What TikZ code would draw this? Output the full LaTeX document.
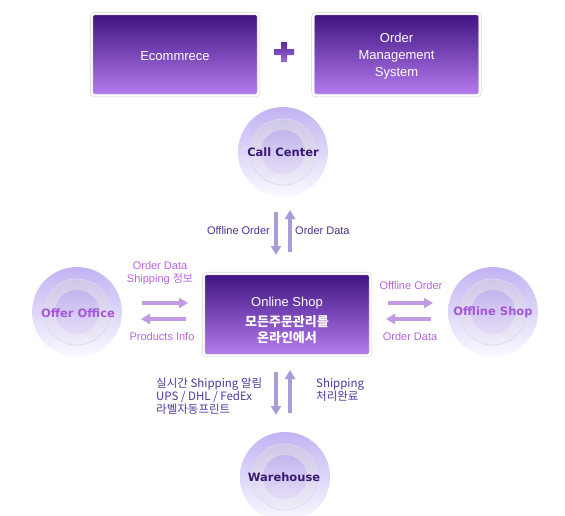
\documentclass[tikz,border=0pt]{standalone}
\usepackage{fontspec}
\setmainfont{Liberation Sans}
\newfontfamily\krfont{Noto Sans CJK KR}
\newfontfamily\djvfont{DejaVu Sans}
\usetikzlibrary{arrows.meta}
\definecolor{boxtop}{HTML}{3E1380}
\definecolor{boxbot}{HTML}{B77CF0}
\definecolor{framegray}{HTML}{D4D4D4}
\definecolor{plustop}{HTML}{5B2C9E}
\definecolor{plusbot}{HTML}{9A6AD8}
\definecolor{ctop}{HTML}{C2B3F2}
\definecolor{cmid}{HTML}{DDD4F8}
\definecolor{cbot}{HTML}{FBFAFF}
\definecolor{mtop}{HTML}{D0C7E8}
\definecolor{mbot}{HTML}{F0ECF9}
\definecolor{medge}{HTML}{C9BFE6}
\definecolor{itop}{HTML}{C4B5EE}
\definecolor{ibot}{HTML}{E4DDF6}
\definecolor{darklbl}{HTML}{3A1A72}
\definecolor{orchid}{HTML}{A457D6}
\definecolor{toplbl}{HTML}{4E3290}
\definecolor{sidelbl}{HTML}{B865DC}
\definecolor{botlbl}{HTML}{5038A0}
\definecolor{varrow}{HTML}{A99CD9}
\definecolor{harrow}{HTML}{C49AE2}
\newcommand\krbold{\krfont\bfseries\fontsize{13}{15}\selectfont}
\tikzset{
  pbox/.style={rectangle, rounded corners=3pt, top color=boxtop, bottom color=boxbot,
    draw=framegray, double=white, double distance=2pt, line width=0.6pt,
    minimum width=167pt, minimum height=82pt, inner sep=0pt},
  btext/.style={text=white, align=center, font=\fontsize{13}{17}\selectfont, inner sep=0pt},
  disc/.pic={
    \shade[top color=ctop, middle color=cmid, bottom color=cbot] (0,0) circle (45pt);
    \shade[top color=mtop, bottom color=mbot] (0,0) circle (33pt);
    \draw[medge!60, line width=0.6pt] (0,0) circle (33pt);
    \shade[top color=itop, bottom color=ibot] (0,0) circle (22pt);
  },
  clbl/.style={font=\djvfont\bfseries\fontsize{11.5}{13}\selectfont, inner sep=0pt},
  lbl/.style={font=\fontsize{11}{13}\selectfont, inner sep=0pt},
  krlbl/.style={font=\krfont\fontsize{11.5}{13}\selectfont, inner sep=0pt, align=left},
  varr/.style={draw=varrow, line width=4pt, -{Triangle[width=10pt,length=9pt]}},
  harr/.style={draw=harrow, line width=4pt, -{Triangle[width=10pt,length=9pt]}},
}
\begin{document}
\begin{tikzpicture}[x=1pt,y=-1pt]
\useasboundingbox (0,0) rectangle (565,515);
\fill[white] (0,0) rectangle (565,515);

% top boxes
\node[pbox] (eco) at (175,54.5) {};
\node[btext] (ecot) at (175,56) {Ecommrece};
\node[pbox] (oms) at (396.5,54.5) {};
\node[btext] (omst) at (396.5,56.5) {Order\\Management\\System};
\shade[top color=plustop, bottom color=plusbot]
  (281,42) -- (287,42) -- (287,49) -- (294,49) -- (294,55) -- (287,55) -- (287,62)
  -- (281,62) -- (281,55) -- (274,55) -- (274,49) -- (281,49) -- cycle;

% central box
\node[pbox] (shop) at (287,314.5) {};
\node[btext] (shopt) at (287,320)
  {Online Shop\\[3pt]\krbold 모든주문관리를\\[-1pt]\krbold 온라인에서};

% circles
\pic at (283,152) {disc};
\node[clbl, text=darklbl] (cc) at (283,152) {Call Center};
\pic at (77,312) {disc};
\node[clbl, text=orchid] (oo) at (78,313) {Offer Office};
\pic at (493,312) {disc};
\node[clbl, text=orchid] (os) at (493,312) {Offline Shop};
\pic at (285,477) {disc};
\node[clbl, text=darklbl] (wh) at (284,477) {Warehouse};

% vertical arrows top
\coordinate (t1a) at (276,212); \coordinate (t1b) at (276,255);
\coordinate (t2a) at (290,252); \coordinate (t2b) at (290,210);
\draw[varr] (t1a) -- (t1b);
\draw[varr] (t2a) -- (t2b);
\node[lbl, text=toplbl, anchor=east] (tl1) at (270,231) {Offline Order};
\node[lbl, text=toplbl, anchor=west] (tl2) at (295,231) {Order Data};

% left horizontal arrows
\coordinate (l1a) at (142,303); \coordinate (l1b) at (188,303);
\coordinate (l2a) at (186,319); \coordinate (l2b) at (141,319);
\draw[harr] (l1a) -- (l1b);
\draw[harr] (l2a) -- (l2b);
\node[lbl, text=sidelbl] (ll1) at (160,266) {Order Data};
\node[lbl, text=sidelbl] (ll2) at (160,279.5) {Shipping {\krfont\fontsize{11}{13}\selectfont 정보}};
\node[lbl, text=sidelbl] (ll3) at (162,337) {Products Info};

% right horizontal arrows
\coordinate (r1a) at (388,303); \coordinate (r1b) at (433,303);
\coordinate (r2a) at (431,319); \coordinate (r2b) at (386,319);
\draw[harr] (r1a) -- (r1b);
\draw[harr] (r2a) -- (r2b);
\node[lbl, text=sidelbl] (rl1) at (411,286) {Offline Order};
\node[lbl, text=sidelbl] (rl2) at (410,337) {Order Data};

% bottom vertical arrows
\coordinate (b1a) at (276,372); \coordinate (b1b) at (276,415);
\coordinate (b2a) at (290,413); \coordinate (b2b) at (290,370);
\draw[varr] (b1a) -- (b1b);
\draw[varr] (b2a) -- (b2b);
\node[krlbl, text=botlbl, anchor=north west] (bl) at (156,378)
  {실시간 Shipping 알림\\UPS / DHL / FedEx\\라벨자동프린트};
\node[krlbl, text=botlbl, anchor=north west] (br) at (316,378)
  {Shipping\\처리완료};
\end{tikzpicture}
\end{document}
